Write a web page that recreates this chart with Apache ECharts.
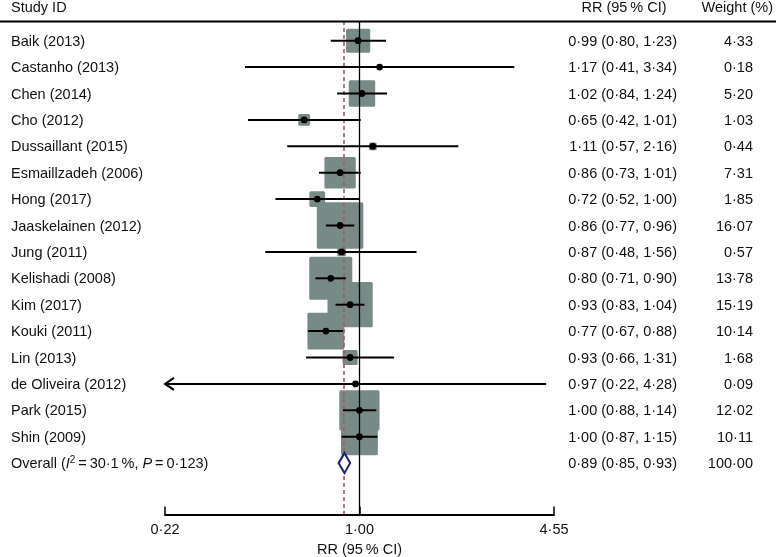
<!DOCTYPE html>
<html>
<head>
<meta charset="utf-8">
<script src="https://cdn.jsdelivr.net/npm/echarts@6/dist/echarts.min.js"></script>
<style>
html,body{margin:0;padding:0;background:#fff;}
#chart{width:776px;height:557px;}
</style>
</head>
<body>
<div id="chart"></div>
<script>
// ---- data ----
const studies = ['Baik (2013)','Castanho (2013)','Chen (2014)','Cho (2012)','Dussaillant (2015)','Esmaillzadeh (2006)','Hong (2017)','Jaaskelainen (2012)','Jung (2011)','Kelishadi (2008)','Kim (2017)','Kouki (2011)','Lin (2013)','de Oliveira (2012)','Park (2015)','Shin (2009)'];
const rr     = [0.99,1.17,1.02,0.65,1.11,0.86,0.72,0.86,0.87,0.80,0.93,0.77,0.93,0.97,1.00,1.00];
const lower  = [0.80,0.41,0.84,0.42,0.57,0.73,0.52,0.77,0.48,0.71,0.83,0.67,0.66,0.22,0.88,0.87];
const upper  = [1.23,3.34,1.24,1.01,2.16,1.01,1.00,0.96,1.56,0.90,1.04,0.88,1.31,4.28,1.14,1.15];
const weights= [4.33,0.18,5.20,1.03,0.44,7.31,1.85,16.07,0.57,13.78,15.19,10.14,1.68,0.09,12.02,10.11];
const overallRR = 0.89, overallLo = 0.85, overallHi = 0.93, overallWeight = 100.00;
const overallI2 = '30·1', overallP = '0·123';
const tickValues = [0.22, 1.00, 4.55];
const tickLabels = ['0·22','1·00','4·55'];

// ---- helpers ----
const fmt = v => v.toFixed(2).replace('.', '·');
const FONT = 'Liberation Sans, Arial, Helvetica, sans-serif';
const FS = 14.5;
const BOX_K = 11.6;
const boxColor = '#788a86';
const overallRow = studies.length;

const forestData = studies.map((s, i) => [Math.log(rr[i]), Math.log(lower[i]), Math.log(upper[i]), i, weights[i]]);
const xMin = Math.log(tickValues[0]), xMax = Math.log(tickValues[tickValues.length - 1]);

const chart = echarts.init(document.getElementById('chart'), null, {renderer: 'canvas'});

const option = {
  animation: false,
  backgroundColor: '#fff',
  textStyle: {fontFamily: FONT},
  grid: {left: 165, right: 222, top: 20.9, bottom: 42.4, containLabel: false, outerBoundsMode: 'none'},
  xAxis: {
    type: 'value',
    min: xMin,
    max: xMax,
    splitLine: {show: false},
    axisLine: {show: true, onZero: false, lineStyle: {color: '#000', width: 2}},
    axisTick: {show: true, inside: true, length: 8, lineStyle: {color: '#000', width: 1.5}, customValues: tickValues.map(Math.log)},
    axisLabel: {
      show: true, color: '#111', fontSize: FS, fontFamily: FONT, margin: 8,
      customValues: tickValues.map(Math.log),
      formatter: v => {
        let best = 0, bd = Infinity;
        tickValues.forEach((t, k) => { const d = Math.abs(Math.log(t) - v); if (d < bd) { bd = d; best = k; } });
        return tickLabels[best];
      }
    },
    name: 'RR (95\u2009% CI)',
    nameLocation: 'middle',
    nameGap: 27,
    nameTextStyle: {color: '#111', fontSize: FS, fontFamily: FONT}
  },
  yAxis: {
    type: 'value', inverse: true, min: -0.75, max: 17.95, show: false
  },
  graphic: [
    {type: 'line', shape: {x1: 0, y1: 21.5, x2: 776, y2: 21.5}, style: {stroke: '#000', lineWidth: 2}, z: 50},
    {type: 'text', x: 11, y: 8, style: {text: 'Study ID', fontSize: FS, fontFamily: FONT, fill: '#111', align: 'left', verticalAlign: 'middle'}},
    {type: 'text', x: 624, y: 8, style: {text: 'RR (95\u2009% CI)', fontSize: FS, fontFamily: FONT, fill: '#111', align: 'center', verticalAlign: 'middle'}},
    {type: 'text', x: 773, y: 8, style: {text: 'Weight (%)', fontSize: FS, fontFamily: FONT, fill: '#111', align: 'right', verticalAlign: 'middle'}}
  ],
  series: [
    {
      // reference lines
      type: 'scatter', data: [], z: 1, silent: true,
      markLine: {
        silent: true, symbol: 'none', label: {show: false},
        data: [
          {xAxis: 0, lineStyle: {color: '#000', width: 1.3, type: 'solid'}},
          {xAxis: Math.log(overallRR), lineStyle: {color: '#a05a6c', width: 1.6, type: [4, 3]}}
        ]
      }
    },
    {
      // weight boxes
      type: 'custom', z: 3, silent: true,
      data: forestData,
      renderItem: (params, api) => {
        const m = api.value(0), row = api.value(3), w = api.value(4);
        const p = api.coord([m, row]);
        const side = BOX_K * Math.sqrt(w);
        return {type: 'rect', shape: {x: p[0] - side / 2, y: p[1] - side / 2, width: side, height: side, r: 1.5}, style: {fill: boxColor}};
      }
    },
    {
      // CI lines + point estimates
      type: 'custom', z: 5, silent: true,
      data: forestData,
      renderItem: (params, api) => {
        const m = api.value(0), lo = api.value(1), hi = api.value(2), row = api.value(3);
        const clipped = lo <= xMin + 1e-9;
        const pm = api.coord([m, row]);
        const plo = api.coord([Math.max(lo, xMin), row]);
        const phi = api.coord([Math.min(hi, xMax), row]);
        const children = [
          {type: 'line', shape: {x1: plo[0], y1: plo[1], x2: phi[0], y2: phi[1]}, style: {stroke: '#000', lineWidth: 2}},
          {type: 'circle', shape: {cx: pm[0], cy: pm[1], r: 3.4}, style: {fill: '#000'}}
        ];
        if (clipped) {
          children.push({type: 'polyline', shape: {points: [[plo[0] + 9, plo[1] - 6], [plo[0], plo[1]], [plo[0] + 9, plo[1] + 6]]}, style: {stroke: '#000', lineWidth: 2, fill: null}});
        }
        return {type: 'group', children};
      }
    },
    {
      // overall diamond
      type: 'custom', z: 6, silent: true,
      data: [[Math.log(overallRR), Math.log(overallLo), Math.log(overallHi), overallRow]],
      renderItem: (params, api) => {
        const row = api.value(3);
        const pm = api.coord([api.value(0), row]);
        const plo = api.coord([api.value(1), row]);
        const phi = api.coord([api.value(2), row]);
        return {type: 'polygon', shape: {points: [[plo[0], pm[1]], [pm[0], pm[1] - 10], [phi[0], pm[1]], [pm[0], pm[1] + 10]]},
          style: {fill: '#fff', stroke: '#1c1c6e', lineWidth: 2}};
      }
    },
    {
      // table text
      type: 'custom', z: 7, silent: true, clip: false,
      data: studies.map((s, i) => [0, i]).concat([[0, overallRow]]),
      renderItem: (params, api) => {
        const row = api.value(1);
        const y = api.coord([0, row])[1] + 1;
        const isOverall = row === overallRow;
        const r = isOverall ? overallRR : rr[row];
        const lo = isOverall ? overallLo : lower[row];
        const hi = isOverall ? overallHi : upper[row];
        const w = isOverall ? overallWeight : weights[row];
        const base = {fontSize: FS, fontFamily: FONT, fill: '#111', verticalAlign: 'middle'};
        const labelEl = isOverall
          ? {type: 'text', x: 11, y: y, style: Object.assign({}, base, {
              text: '{n|Overall (}{it|I}{sup|2}{n|\u2009=\u2009' + overallI2 + '\u2009%, }{it|P}{n|\u2009=\u2009' + overallP + ')}',
              align: 'left',
              rich: {
                n: {fontSize: FS, fontFamily: FONT, fill: '#111'},
                it: {fontSize: FS, fontFamily: FONT, fontStyle: 'italic', fill: '#111'},
                sup: {fontSize: 10, fontFamily: FONT, fill: '#111', verticalAlign: 'top', padding: [0, 0, 8, 0]}
              }
            })}
          : {type: 'text', x: 11, y: y, style: Object.assign({}, base, {text: studies[row], align: 'left'})};
        return {type: 'group', children: [
          labelEl,
          {type: 'text', x: 677, y: y, style: Object.assign({}, base, {text: fmt(r) + ' (' + fmt(lo) + ', ' + fmt(hi) + ')', align: 'right'})},
          {type: 'text', x: 753, y: y, style: Object.assign({}, base, {text: fmt(w), align: 'right'})}
        ]};
      }
    }
  ]
};
chart.setOption(option);
</script>
</body>
</html>
